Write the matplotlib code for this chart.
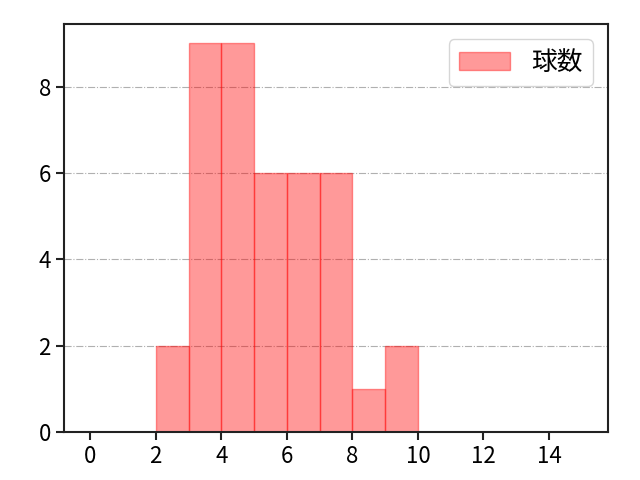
import matplotlib.pyplot as plt

plt.rcParams['font.family'] = ['Noto Sans CJK JP', 'DejaVu Sans']

# histogram of pitch counts
bin_edges = [2, 3, 4, 5, 6, 7, 8, 9, 10]
counts = [2, 9, 9, 6, 6, 6, 1, 2]
label = '球数'

fig = plt.figure(figsize=(6.4, 4.8), dpi=100)
ax = fig.add_axes([0.1, 0.1, 0.85, 0.85])

ax.hist(bin_edges[:-1], bins=bin_edges, weights=counts,
        color='red', alpha=0.4, linewidth=1, edgecolor='red',
        label=label, zorder=2)

ax.set_xlim(-0.8, 15.8)
ax.set_ylim(0, 9.45)
ax.set_xticks(range(0, 16, 2))
ax.grid(axis='y', linestyle='-.', color='#b0b0b0', zorder=0)
for s in ax.spines.values():
    s.set_linewidth(1.5)
    s.set_color('#222222')
ax.tick_params(labelsize=16, width=1.5, length=6, color='#222222')
ax.legend(loc='upper right', fontsize=18.5, borderaxespad=0.6)

fig.savefig('out.png')
